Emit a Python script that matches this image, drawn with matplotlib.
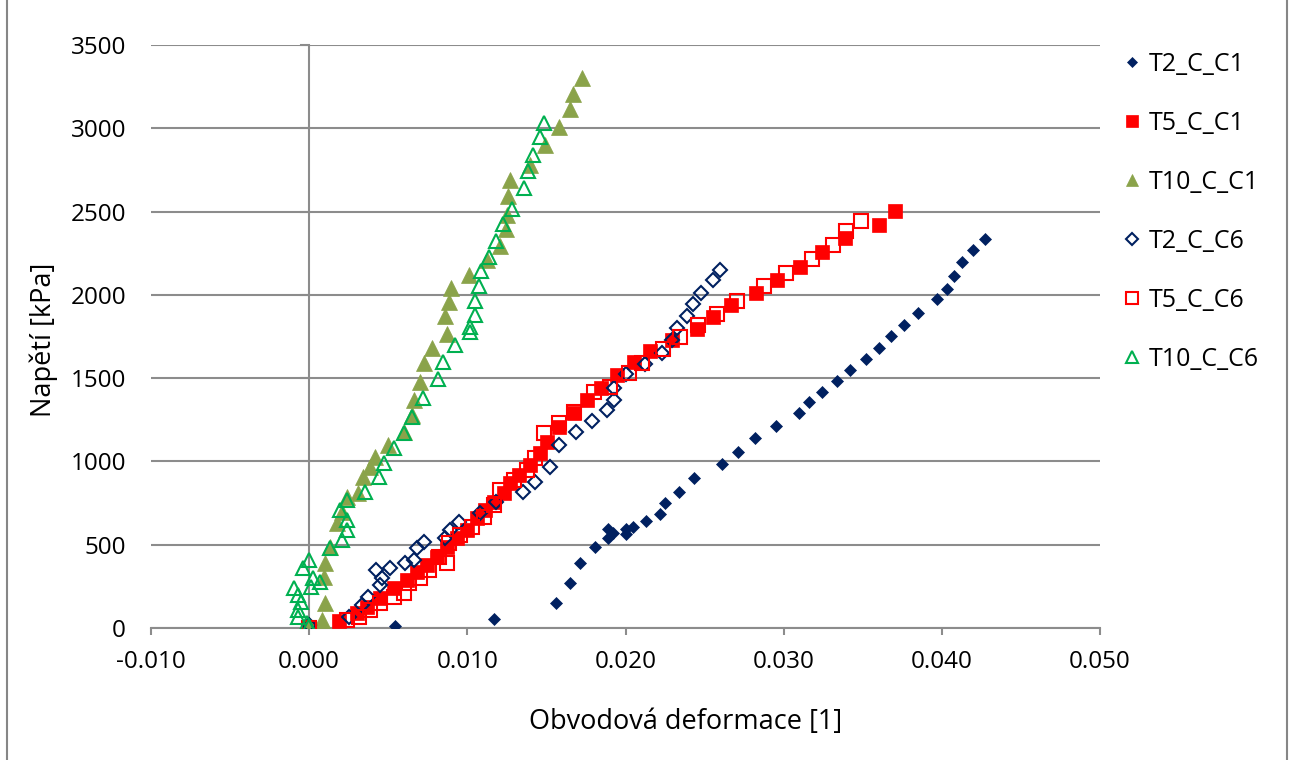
import matplotlib
matplotlib.use("Agg")
import matplotlib.pyplot as plt
from matplotlib.lines import Line2D

# ---------------- data ----------------
t2_c1_x = [0.0000, 0.0054, 0.0117, 0.0156, 0.0165, 0.0171, 0.0181, 0.0189, 0.0189, 0.0192, 0.0200, 0.0200,
           0.0205, 0.0213, 0.0222, 0.0225, 0.0234, 0.0243, 0.0261, 0.0271, 0.0282, 0.0295, 0.0310, 0.0316,
           0.0324, 0.0334, 0.0342, 0.0352, 0.0360, 0.0368, 0.0376, 0.0385, 0.0397, 0.0403, 0.0408, 0.0413,
           0.0420, 0.0427]
t2_c1_y = [0, 15, 52, 150, 273, 393, 487, 594, 540, 570, 594, 566,
           605, 640, 684, 748, 818, 900, 984, 1058, 1142, 1214, 1292, 1354,
           1414, 1484, 1548, 1616, 1682, 1754, 1820, 1892, 1974, 2036, 2116, 2198,
           2268, 2338]

t5_c1_x = [0.0000, 0.00186, 0.00302, 0.00365, 0.00449, 0.00534, 0.00618, 0.00682, 0.00745, 0.00808,
           0.00871, 0.00935, 0.00998, 0.01061, 0.01114, 0.01166, 0.0123, 0.01272, 0.01325, 0.01399,
           0.01462, 0.01504, 0.01578, 0.01673, 0.01757, 0.01847, 0.01947, 0.02053, 0.02158, 0.02291,
           0.02449, 0.02553, 0.02669, 0.02823, 0.02956, 0.03103, 0.0324, 0.03388, 0.03603, 0.03703]
t5_c1_y = [0, 44, 88, 128, 178, 238, 288, 338, 378, 428,
           488, 538, 588, 658, 708, 758, 808, 868, 918, 978,
           1048, 1118, 1208, 1288, 1368, 1438, 1518, 1598, 1662, 1728,
           1798, 1868, 1938, 2012, 2088, 2168, 2258, 2342, 2418, 2504]

t10_c1_x = [0.0000, 0.0008, 0.00097, 0.00091, 0.00101, 0.00133, 0.00175, 0.00207, 0.00239, 0.00306,
            0.0034, 0.00382, 0.00418, 0.00496, 0.00601, 0.0065, 0.0066, 0.00703, 0.00728, 0.00776,
            0.00871, 0.00861, 0.00882, 0.00899, 0.01011, 0.01127, 0.01209, 0.01245, 0.01251, 0.01255,
            0.01268, 0.01399, 0.01489, 0.01578, 0.01646, 0.01667, 0.01726]
t10_c1_y = [18, 48, 148, 308, 388, 488, 628, 698, 788, 808,
            908, 968, 1028, 1098, 1178, 1278, 1368, 1474, 1588, 1678,
            1768, 1872, 1958, 2044, 2122, 2208, 2292, 2394, 2482, 2594,
            2692, 2778, 2898, 3008, 3118, 3208, 3302]

t2_c6_x = [0.0000, 0.00249, 0.00334, 0.00375, 0.00445, 0.0046, 0.00424, 0.00513, 0.00603, 0.0066,
           0.00682, 0.00723, 0.00856, 0.00892, 0.00949, 0.01078, 0.01184, 0.0135, 0.01426, 0.01521,
           0.01578, 0.01684, 0.01789, 0.0188, 0.0193, 0.0193, 0.0200, 0.02122, 0.02228, 0.02296,
           0.02327, 0.02386, 0.02428, 0.02475, 0.02551, 0.02597]
t2_c6_y = [18, 64, 138, 188, 258, 298, 348, 358, 388, 408,
           478, 514, 538, 588, 634, 692, 758, 814, 878, 964,
           1098, 1178, 1244, 1308, 1368, 1438, 1524, 1584, 1652, 1728,
           1802, 1872, 1944, 2012, 2088, 2152]

t5_c6_x = [0.0000, 0.00239, 0.00312, 0.00386, 0.00449, 0.00534, 0.00597, 0.00629, 0.00703, 0.00755,
           0.00818, 0.00871, 0.00882, 0.00956, 0.0103, 0.01103, 0.01166, 0.01209, 0.01293, 0.01378,
           0.0143, 0.01483, 0.01578, 0.01673, 0.0180, 0.01905, 0.0202, 0.02106, 0.02239, 0.02344,
           0.0246, 0.02576, 0.02707, 0.02876, 0.03013, 0.03181, 0.03312, 0.03392, 0.03487]
t5_c6_y = [0, 48, 68, 108, 148, 188, 208, 268, 298, 348,
           428, 388, 508, 558, 608, 668, 738, 828, 888, 948,
           1018, 1168, 1228, 1298, 1418, 1448, 1532, 1592, 1672, 1748,
           1818, 1884, 1964, 2052, 2132, 2218, 2298, 2384, 2444]

t10_c6_x = [0.0000, -0.00015, -0.00068, -0.00068, -0.00053, -0.00068, -0.00095, 0.0001, 0.0007, 0.00027,
            -0.00036, 0.0000, 0.00133, 0.00207, 0.00239, 0.00239, 0.00196, 0.00239, 0.00354, 0.00439,
            0.00475, 0.00534, 0.00601, 0.0065, 0.0072, 0.00812, 0.00846, 0.00924, 0.01015, 0.01015,
            0.01051, 0.01051, 0.01072, 0.01084, 0.01139, 0.01182, 0.01226, 0.01283, 0.01357, 0.01382,
            0.01413, 0.01462, 0.01487]
t10_c6_y = [12, 28, 68, 108, 158, 198, 238, 248, 278, 298,
            358, 408, 478, 528, 588, 648, 708, 768, 818, 908,
            988, 1078, 1168, 1268, 1378, 1492, 1598, 1698, 1780, 1808,
            1878, 1964, 2052, 2144, 2228, 2324, 2424, 2518, 2644, 2744,
            2838, 2948, 3032]

series_names = ["T2_C_C1", "T5_C_C1", "T10_C_C1", "T2_C_C6", "T5_C_C6", "T10_C_C6"]
x_ticks = [-0.010, 0.000, 0.010, 0.020, 0.030, 0.040, 0.050]
y_ticks = [0, 500, 1000, 1500, 2000, 2500, 3000, 3500]
x_label = "Obvodová deformace [1]"
y_label = "Napětí [kPa]"

# ---------------- plot ----------------
FONT = ["Open Sans", "DejaVu Sans"]
plt.rcParams['font.family'] = FONT

W, H = 1290, 760
fig = plt.figure(figsize=(W / 100, H / 100), dpi=100)
ax = fig.add_axes([151 / W, 1 - 628 / H, (1100 - 151) / W, (628 - 45) / H])

navy = "#002060"
red = "#FF0000"
olive = "#8AA34A"
green = "#00B050"

styles = [
    dict(x=t2_c1_x, y=t2_c1_y, marker="D", ms=6.5, mfc=navy, mec=navy, mew=0.5),
    dict(x=t5_c1_x, y=t5_c1_y, marker="s", ms=9.5, mfc=red, mec=red, mew=0.5),
    dict(x=t10_c1_x, y=t10_c1_y, marker="^", ms=11, mfc=olive, mec=olive, mew=0.5),
    dict(x=t2_c6_x, y=t2_c6_y, marker="D", ms=7.5, mfc="none", mec=navy, mew=1.5),
    dict(x=t5_c6_x, y=t5_c6_y, marker="s", ms=9.5, mfc="none", mec=red, mew=1.5),
    dict(x=t10_c6_x, y=t10_c6_y, marker="^", ms=10.5, mfc="none", mec=green, mew=1.5),
]

handles = []
for name, st in zip(series_names, styles):
    h, = ax.plot(st["x"], st["y"], linestyle="none", marker=st["marker"], ms=st["ms"],
                 markerfacecolor=st["mfc"], markeredgecolor=st["mec"], markeredgewidth=st["mew"],
                 label=name, zorder=3)
    handles.append(h)

ax.set_xlim(-0.010, 0.050)
ax.set_ylim(0, 3500)
ax.set_xticks(x_ticks)
ax.set_xticklabels([f"{v:.3f}" for v in x_ticks])
ax.set_yticks(y_ticks)
ax.set_yticklabels([str(v) for v in y_ticks])

grid_c = "#8C8C8C"
ax.yaxis.grid(True, color=grid_c, linewidth=1.5, zorder=0)
ax.set_axisbelow(True)
for s in ["top", "right", "left"]:
    ax.spines[s].set_visible(False)
ax.spines["bottom"].set_color(grid_c)
ax.spines["bottom"].set_linewidth(1.5)
# vertical axis line at x = 0
ax.axvline(0.0, color=grid_c, linewidth=1.5, zorder=1)
# small y tick stubs on the x=0 axis
for v in y_ticks:
    ax.plot([-0.0005, 0.0], [v, v], color=grid_c, linewidth=1.5, zorder=1, clip_on=False)

ax.tick_params(axis="x", direction="out", length=5, width=1.5, color=grid_c,
               labelsize=17.5, pad=11, labelcolor="black")
ax.tick_params(axis="y", length=0, labelsize=17.5, pad=18, labelcolor="black")

fig.text(44 / W, 1 - 340 / H, y_label, rotation=90, ha="center", va="center", fontsize=19.5)
fig.text(686 / W, 1 - 722 / H, x_label, ha="center", va="center", fontsize=19.5)

leg = fig.legend(handles=handles, labels=series_names, loc="upper left",
                 bbox_to_anchor=(1114 / W, 1 - 42 / H), frameon=False, fontsize=18,
                 handlelength=0.6, handletextpad=0.4, labelspacing=1.36, markerscale=0.85,
                 borderaxespad=0, borderpad=0.4)

# chart-area border (left and right edges visible)
for xp in (6.5, 1286.5):
    fig.add_artist(Line2D([xp / W, xp / W], [0, 1], transform=fig.transFigure,
                          color="#868686", linewidth=1.5))

fig.savefig("out.png", dpi=100)
